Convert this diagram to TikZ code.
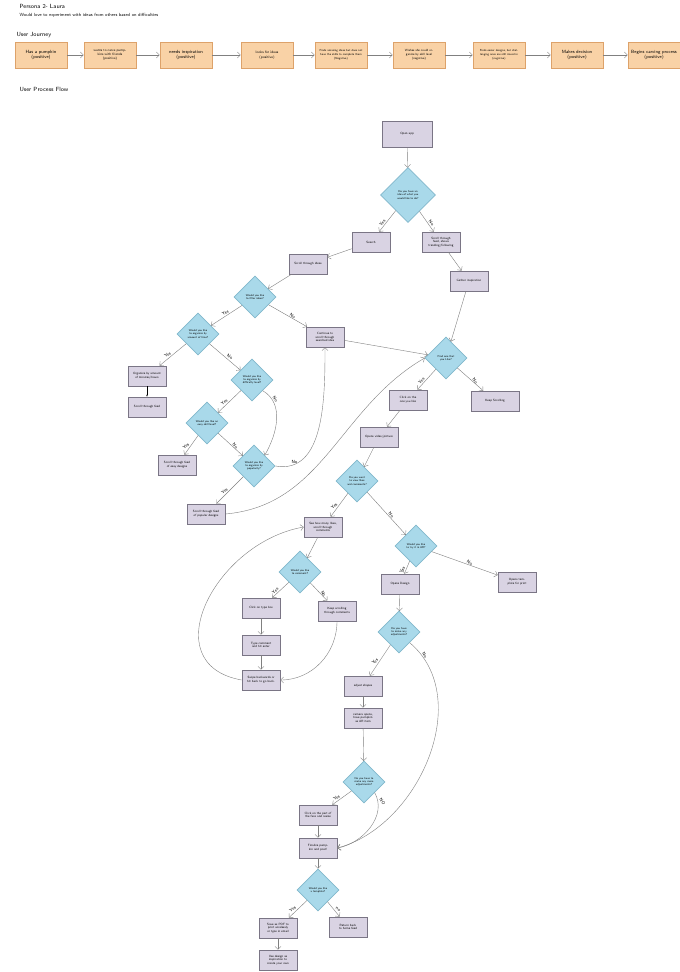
\documentclass[tikz,border=0pt]{standalone}
\usepackage{tikz}
\usetikzlibrary{shapes.geometric,arrows.meta}
\usepackage{xcolor}
\definecolor{jfill}{HTML}{F9D2A6}
\definecolor{jdraw}{HTML}{DDA26A}
\definecolor{pfill}{HTML}{D9D3E3}
\definecolor{pdraw}{HTML}{7A7585}
\definecolor{dfill}{HTML}{A9D9EA}
\definecolor{ddraw}{HTML}{82B8CC}

\begin{document}
\begin{tikzpicture}[x=1pt,y=-1pt]
			\tikzstyle{j} = [draw=jdraw, fill=jfill, thick, minimum width=52, minimum height=26, text width=46, align=center, inner sep=1, font=\fontsize{4.6}{5.2}\selectfont\sffamily]
			\tikzstyle{p} = [draw=pdraw, fill=pfill, semithick, minimum width=38, minimum height=20, text width=28, align=center, inner sep=1, font=\fontsize{3.1}{3.7}\selectfont\sffamily]
			\tikzstyle{d} = [diamond, draw=ddraw, fill=dfill, semithick, minimum width=42, minimum height=42, text width=23, align=center, inner sep=0, font=\fontsize{2.8}{3.3}\selectfont\sffamily]
			\tikzstyle{a} = [draw=gray, -{Straight Barb[length=3pt]}, thin]
			\tikzstyle{yn} = [font=\fontsize{4.5}{5}\selectfont\sffamily, inner sep=1]
			\useasboundingbox [fill=white] (0,0) rectangle (680,972);
			
			\node [anchor=west, font=\fontsize{6}{7}\selectfont\sffamily] (title) at (16,6) {Persona 2- Laura};
			\node [anchor=west, font=\fontsize{4.5}{5}\selectfont\sffamily] (sub) at (16,15) {Would love to experiment with ideas from others based on difficulties};
			\node [anchor=west, font=\fontsize{6}{7}\selectfont\sffamily] (uj) at (13,35) {User Journey};
			\node [anchor=west, font=\fontsize{6}{7}\selectfont\sffamily] (upf) at (16,89) {User Process Flow};
			
			\node [j] (j1) at (41,55) {Has a pumpkin\\(positive)};
			\node [j,font=\fontsize{3.4}{4.2}\selectfont\sffamily] (j2) at (110,55) {wants to carve pumpkins with friends\\(positive)};
			\node [j] (j3) at (186,55) {needs inspiration\\(positive)};
			\node [j,font=\fontsize{3.6}{4.4}\selectfont\sffamily] (j4) at (267,55) {looks for ideas\\(positive)};
			\node [j,font=\fontsize{2.9}{3.7}\selectfont\sffamily] (j5) at (341,55) {Finds amazing ideas but does not have the skills to complete them\\(Negative)};
			\node [j,font=\fontsize{3.1}{3.9}\selectfont\sffamily] (j6) at (419,55) {Wishes she could organize by skill level\\(negative)};
			\node [j,font=\fontsize{2.9}{3.7}\selectfont\sffamily] (j7) at (499,55) {Finds easier designs, but challenging ones are still mixed in\\(negative)};
			\node [j] (j8) at (577,55) {Makes decision\\(positive)};
			\node [j] (j9) at (654,55) {Begins carving process\\(positive)};
			\draw [a] (j1) -- (j2);
			\draw [a] (j2) -- (j3);
			\draw [a] (j3) -- (j4);
			\draw [a] (j4) -- (j5);
			\draw [a] (j5) -- (j6);
			\draw [a] (j6) -- (j7);
			\draw [a] (j7) -- (j8);
			\draw [a] (j8) -- (j9);
			
			\node [p, minimum width=50, minimum height=26] (open) at (407,134) {Open app};
			\node [d, minimum width=55, minimum height=55, text width=32] (d1) at (408,195) {Do you have an idea of what you would like to do?};
			\node [p] (search) at (371,242) {Search};
			\node [p] (feed) at (441,242) {Scroll through feed, shows trending/following};
			\node [p] (gather) at (469,281) {Gather inspiration};
			\node [p] (ideas) at (308,264) {Scroll through ideas};
			\node [d] (filter) at (255,297) {Would you like to filter ideas?};
			\node [d] (time) at (198,334) {Would you like to organize by amount of time?};
			\node [p] (cont) at (325,337) {Continue to scroll through searched idea};
			\node [p] (orgtime) at (147,376) {Organize by amount of minutes/hours};
			\node [p] (sfeed) at (147,407) {Scroll through feed};
			\node [d] (diff) at (252,380) {Would you like to organize by difficulty level?};
			\node [d] (easy) at (207,423) {Would you like an easy skill level?};
			\node [p] (easyd) at (177,465) {Scroll through feed of easy designs};
			\node [d] (pop) at (254,466) {Would you like to organize by popularity?};
			\node [p] (popd) at (206,514) {Scroll through feed of popular designs};
			\node [d] (find) at (446,358) {Find one that you Like?};
			\node [p] (click) at (408,400) {Click on the one you like};
			\node [p, minimum width=48] (keep) at (495,401) {Keep Scrolling};
			\node [p] (opens) at (379,437) {Opens video/picture};
			\node [d] (view) at (357,481) {Do you want to view likes and comments?};
			\node [p] (likes) at (323,527) {See how many likes, scroll through comments};
			\node [d] (ar) at (416,546) {Would you like to try it in AR?};
			\node [d] (comm) at (300,572) {Would you like to comment?};
			\node [p] (odes) at (400,584) {Opens Design};
			\node [p] (tmpl) at (517,582) {Opens template for print};
			\node [p] (type) at (261,608) {Click on type box};
			\node [p] (kscr) at (337,611) {Keep scrolling through comments};
			\node [p] (tcom) at (261,645) {Type comment and hit enter};
			\node [p] (swipe) at (261,680) {Swipe backwards or hit back to go back.};
			\node [d] (adj) at (399,632) {Do you have to make any adjustments?};
			\node [p] (shapes) at (363,686) {adjust shapes};
			\node [p] (cam) at (363,718) {camera opens, have pumpkin as AR item};
			\node [d] (more) at (364,782) {Do you have to make any more adjustments?};
			\node [p] (part) at (318,815) {Click on the part of the face and resize};
			\node [p] (fin) at (318,848) {Finalize pumpkin and post!};
			\node [d] (tq) at (318,890) {Would you like a template?};
			\node [p] (save) at (278,928) {Save as PDF to print wirelessly or type in email};
			\node [p] (ret) at (348,927) {Return back to home feed};
			\node [p] (use) at (278,960) {Use design as inspiration to create your own};
			
			\draw [a] (open) -- (d1);
			\draw [a] (d1) -- (search) node[yn,midway,above left,rotate=50] {Yes};
			\draw [a] (d1) -- (feed) node[yn,midway,above right,rotate=-50] {No};
			\draw [a] (search) -- (ideas);
			\draw [a] (feed) -- (gather);
			\draw [a] (gather) -- (find);
			\draw [a] (ideas) -- (filter);
			\draw [a] (filter) -- (time) node[yn,midway,above,rotate=25] {Yes};
			\draw [a] (filter) -- (cont) node[yn,midway,above right,rotate=-35] {No};
			\draw [a] (cont) -- (find);
			\draw [a] (time) -- (orgtime) node[yn,midway,above left,rotate=30] {Yes};
			\draw [a] (time) -- (diff) node[yn,midway,above right,rotate=-30] {No};
			\draw [black, semithick, -{Stealth[length=2pt]}] (orgtime) -- (sfeed);
			\draw [a] (diff) -- (easy) node[yn,midway,above left,rotate=35] {Yes};
			\draw [a] (diff.south east) to[out=-30, in=60] node[yn,pos=0.15,above right,rotate=-55] {No} (pop.north east);
			\draw [a] (easy) -- (pop) node[yn,midway,above right,rotate=-50] {No};
			\draw [a] (easy) -- (easyd) node[yn,midway,above left,rotate=40] {Yes};
			\draw [a] (pop) -- (popd) node[yn,midway,above left,rotate=40] {Yes};
			\draw [a] (pop.east) to[out=-10, in=-90] node[yn,pos=0.15,above] {No} (cont.south);
			\draw [a] (popd.east) to[out=5, in=-150] (find.west);
			\draw [a] (find) -- (click) node[yn,midway,above left,rotate=45] {Yes};
			\draw [a] (find) -- (keep) node[yn,midway,above right,rotate=-50] {No};
			\draw [a] (click) -- (opens);
			\draw [a] (opens) -- (view);
			\draw [a] (view) -- (likes) node[yn,midway,above left,rotate=45] {Yes};
			\draw [a] (view) -- (ar) node[yn,midway,above right,rotate=-50] {No};
			\draw [a] (likes) -- (comm);
			\draw [a] (comm) -- (type) node[yn,midway,above left,rotate=40] {Yes};
			\draw [a] (comm) -- (kscr) node[yn,midway,above right,rotate=-55] {No};
			\draw [a] (type) -- (tcom);
			\draw [a] (tcom) -- (swipe);
			\draw [a] (kscr.south) to[out=-90, in=0] (swipe.east);
			\draw [a] (swipe.west) to[out=170, in=190, looseness=1.4] (likes.west);
			\draw [a] (ar) -- (odes) node[yn,midway,above left,rotate=60] {Yes};
			\draw [a] (ar) -- (tmpl) node[yn,midway,above right,rotate=-30] {No};
			\draw [a] (odes) -- (adj);
			\draw [a] (adj) -- (shapes) node[yn,midway,above left,rotate=45] {Yes};
			\draw [a] (adj.south east) to[out=-40, in=15] node[yn,pos=0.06,above right,rotate=-55] {No} (fin.east);
			\draw [a] (shapes) -- (cam);
			\draw [a] (cam) -- (more);
			\draw [a] (more) -- (part) node[yn,midway,above left,rotate=30] {Yes};
			\draw [a] (more.south east) to[out=-60, in=10] node[yn,pos=0.1,above right,rotate=-55] {NO} (fin.east);
			\draw [a] (part) -- (fin);
			\draw [a] (fin) -- (tq);
			\draw [a] (tq) -- (save) node[yn,midway,above left,rotate=35] {Yes};
			\draw [a] (tq) -- (ret) node[yn,midway,above right,rotate=-35] {no};
			\draw [a] (save) -- (use);
			
		\end{tikzpicture}
\end{document}
